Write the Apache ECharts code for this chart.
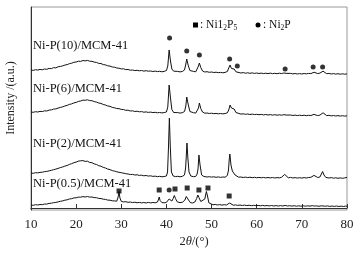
<!DOCTYPE html>
<html><head><meta charset="utf-8">
<script src="https://cdn.jsdelivr.net/npm/echarts@6/dist/echarts.min.js"></script>
<style>html,body{margin:0;padding:0;background:#fff}#c{width:359px;height:253px}</style>
</head><body><div id="c"></div>
<script>
// X-axis ticks (2θ, degrees)
var xTicks = [10, 20, 30, 40, 50, 60, 70, 80];
var sampleNames = ['Ni-P(10)/MCM-41', 'Ni-P(6)/MCM-41', 'Ni-P(2)/MCM-41', 'Ni-P(0.5)/MCM-41'];

// XRD patterns, [2θ, intensity (a.u., stacked offsets)]
var np10 = [[10,138],[10.5,137.6],[11,138.3],[11.5,137.9],[12,138.6],[12.5,138.2],[13,139],[13.5,138.7],[14,139.6],[14.5,139.3],[15,140.4],[15.5,140.1],[16,141.2],[16.5,141.6],[17,142.1],[17.5,142.9],[18,143.4],[18.5,144.3],[19,144.8],[19.5,145.7],[20,146],[20.5,146.8],[21,146.6],[21.5,147.5],[22,147.1],[22.5,147.6],[23,146.8],[23.5,146.7],[24,145.9],[24.5,145.6],[25,144.6],[25.5,144.5],[26,143.4],[26.5,143.1],[27,142.2],[27.5,141.9],[28,141],[28.5,140.8],[29,140],[29.5,139.8],[30,139.1],[30.5,139.2],[31,138.4],[31.5,138.5],[32,137.8],[32.5,138],[33,137.4],[33.5,137.7],[34,137.2],[34.5,137.5],[35,136.9],[35.5,137.3],[36,136.8],[36.5,137],[37,136.5],[37.5,136.9],[38,136.4],[38.5,136.7],[39,136.2],[39.5,136.6],[40,137.5],[40.3,142],[40.6,158],[40.9,147],[41.2,139],[41.6,136.8],[42,136.2],[42.5,136.6],[43,136.1],[43.5,136.5],[44,138],[44.3,144],[44.5,149],[44.8,143],[45.2,137.5],[45.6,136.3],[46,136.6],[46.5,136.2],[46.8,138],[47.1,142],[47.3,145],[47.6,140.5],[48,137],[48.5,136],[49,136.3],[49.5,135.7],[50,136],[50.5,135.5],[51,135.8],[51.5,135.3],[52,135.6],[52.5,135.2],[53,135.6],[53.5,136.5],[53.8,140],[54.1,143],[54.4,139.5],[54.7,138],[55,139],[55.4,136.2],[55.8,135.4],[56.5,135],[57,135.4],[57.5,134.8],[58,135.2],[58.5,134.7],[59,135.1],[59.5,134.6],[60,135],[60.5,134.5],[61,134.9],[61.5,134.4],[62,134.8],[62.5,134.4],[63,134.9],[63.5,134.3],[64,134.7],[64.5,134.3],[65,134.8],[65.5,134.4],[66,135],[66.3,135.8],[66.7,134.6],[67,134.2],[67.5,134.6],[68,134.1],[68.5,134.5],[69,134],[69.5,134.4],[70,134],[70.5,134.5],[71,134.1],[71.5,134.6],[72,134.4],[72.4,135.3],[72.7,135.8],[73,134.6],[73.5,134.4],[74,134.9],[74.4,135.5],[74.7,136.8],[75,135.4],[75.5,134.3],[76,134.6],[76.5,134],[77,134.4],[77.5,133.9],[78,134.3],[78.5,133.8],[79,134.2],[79.5,133.8],[80,134.1]];

var np6 = [[10,96],[10.5,95.7],[11,96.3],[11.5,96],[12,96.6],[12.5,96.4],[13,97.2],[13.5,97],[14,97.9],[14.5,98.1],[15,98.9],[15.5,99.1],[16,99.9],[16.5,100.6],[17,101.1],[17.5,102],[18,102.6],[18.5,103.6],[19,104.1],[19.5,105.1],[20,105.6],[20.5,106.6],[21,107],[21.5,107.9],[22,107.7],[22.5,108.2],[23,107.4],[23.5,107.3],[24,106.4],[24.5,105.9],[25,105],[25.5,104.6],[26,103.5],[26.5,103],[27,102],[27.5,101.7],[28,100.6],[28.5,100.2],[29,99.5],[29.5,99.3],[30,98.6],[30.5,98.4],[31,97.7],[31.5,97.8],[32,97],[32.5,97.2],[33,96.5],[33.5,96.8],[34,96.2],[34.5,96.4],[35,95.8],[35.5,96.1],[36,95.6],[36.5,95.9],[37,95.4],[37.5,95.7],[38,95.2],[38.5,95.5],[39,95.1],[39.5,95.4],[40,96],[40.3,101],[40.6,123],[40.9,110],[41.2,98.5],[41.6,95.5],[42,95],[42.5,95.4],[43,94.9],[43.5,95.3],[44,96.5],[44.3,102],[44.5,111],[44.8,104],[45.2,96.5],[45.6,95],[46,95.3],[46.5,94.9],[46.8,96.5],[47.1,100],[47.3,105],[47.6,99.5],[48,96],[48.5,94.8],[49,95],[49.5,94.5],[50,94.8],[50.5,94.3],[51,94.6],[51.5,94.2],[52,94.5],[52.5,94.1],[53,94.5],[53.5,95.2],[53.8,98],[54.1,103],[54.4,100],[54.7,98],[55,99],[55.4,95.5],[55.8,94.3],[56.5,93.9],[57,94.2],[57.5,93.7],[58,94],[58.5,93.5],[59,93.9],[59.5,93.4],[60,93.7],[60.5,93.3],[61,93.6],[61.5,93.1],[62,93.5],[62.5,93],[63,93.4],[63.5,92.9],[64,93.3],[64.5,92.8],[65,93.2],[65.5,92.8],[66,93.3],[66.3,93.9],[66.7,92.9],[67,92.6],[67.5,93],[68,92.5],[68.5,92.9],[69,92.4],[69.5,92.8],[70,92.4],[70.5,92.8],[71,92.3],[71.5,92.7],[72,92.5],[72.4,93.2],[72.7,93.6],[73,92.7],[73.5,92.4],[74,92.9],[74.4,93.8],[74.7,95.2],[75,93.6],[75.5,92.4],[76,92.7],[76.5,92.1],[77,92.5],[77.5,92],[78,92.4],[78.5,91.9],[79,92.3],[79.5,91.9],[80,92.2]];

var np2 = [[10,35],[10.5,34.7],[11,35.3],[11.5,35.1],[12,35.6],[12.5,35.8],[13,36.3],[13.5,36.6],[14,37.1],[14.5,37.7],[15,38.3],[15.5,38.9],[16,39.6],[16.5,40.4],[17,41],[17.5,41.9],[18,42.5],[18.5,43.6],[19,44.3],[19.5,45.3],[20,45.9],[20.5,46.9],[21,47.2],[21.5,47.4],[22,46.6],[22.5,46.8],[23,45.6],[23.5,45.3],[24,44.1],[24.5,43.5],[25,42.3],[25.5,41.8],[26,40.6],[26.5,40],[27,38.9],[27.5,38.4],[28,37.4],[28.5,36.9],[29,36.2],[29.5,35.7],[29.8,37.4],[30.1,35.2],[30.5,34.6],[31,34.3],[31.5,34],[32,33.5],[32.5,33.6],[33,33],[33.5,33.2],[34,32.6],[34.5,32.8],[35,32.2],[35.5,32.5],[36,31.9],[36.5,32.2],[37,31.6],[37.5,31.9],[38,31.3],[38.5,31.7],[39,31.2],[39.5,31.5],[40,32],[40.25,36],[40.45,60],[40.65,90],[40.85,62],[41.1,36],[41.5,32],[42,31.4],[42.5,31.7],[43,31.2],[43.5,31.6],[44,33],[44.25,40],[44.4,52],[44.55,65],[44.75,50],[45,36],[45.4,32],[46,31.3],[46.5,31.6],[46.8,34],[47,39],[47.2,53],[47.45,43],[47.8,33],[48.3,31.5],[49,31],[49.5,31.3],[50,30.9],[50.5,31.2],[51,30.7],[51.5,31.1],[52,30.6],[52.5,31],[53,30.8],[53.5,32.5],[53.75,38],[53.9,48],[54.05,54],[54.3,43],[54.6,37],[54.9,38.5],[55.2,33],[55.6,31.4],[56,30.8],[56.5,31],[57,30.5],[57.5,30.9],[58,30.4],[58.5,30.8],[59,30.3],[59.5,30.7],[60,30.2],[60.5,30.6],[61,30.2],[61.5,30.6],[62,30.1],[62.5,30.5],[63,30.1],[63.5,30.5],[64,30],[64.5,30.4],[65,30.1],[65.5,30.7],[65.9,32],[66.2,33.6],[66.5,31.6],[67,30.2],[67.5,30.6],[68,30],[68.5,30.4],[69,29.9],[69.5,30.3],[70,29.9],[70.5,30.4],[71,30],[71.5,30.5],[72,30.7],[72.4,31.8],[72.7,32.6],[73,31.2],[73.5,30.5],[74,31],[74.3,32.8],[74.6,36.5],[74.9,33],[75.3,30.6],[76,30],[76.5,30.4],[77,29.8],[77.5,30.2],[78,29.7],[78.5,30.1],[79,29.7],[79.5,30.1],[80,30.6]];

var np05 = [[10,3],[10.5,2.7],[11,3.3],[11.5,3],[12,3.5],[12.5,3.3],[13,4],[13.5,3.9],[14,4.6],[14.5,4.8],[15,5.3],[15.5,5.6],[16,6.1],[16.5,6.7],[17,7.1],[17.5,7.8],[18,8.2],[18.5,9],[19,9.3],[19.5,10.1],[20,10.2],[20.5,10.9],[21,10.8],[21.5,11.4],[22,11],[22.5,11.5],[23,10.9],[23.5,11],[24,10.4],[24.5,10.3],[25,9.6],[25.5,9.5],[26,8.8],[26.5,8.6],[27,7.9],[27.5,7.8],[28,7.2],[28.5,7.1],[29,6.8],[29.3,11],[29.5,16.5],[29.7,10],[30,6.6],[30.5,6.1],[31,6.3],[31.5,5.7],[32,6],[32.5,5.4],[33,5.8],[33.5,5.2],[34,5.6],[34.5,5.1],[35,5.5],[35.5,5],[36,5.6],[36.5,5.1],[37,5.5],[37.5,5.2],[38,5.9],[38.2,8],[38.4,11],[38.6,7.5],[39,5.4],[39.5,5.2],[40,5.6],[40.4,7.5],[40.6,9],[40.8,7.2],[41.2,7],[41.5,9.5],[41.75,12.5],[42,9.5],[42.4,6.2],[43,5.3],[43.6,5.9],[44.1,8],[44.4,11.5],[44.6,12],[44.9,8],[45.3,5.4],[45.8,5],[46.3,6],[46.7,9.5],[46.95,13],[47.2,10.5],[47.6,6.5],[48,6],[48.5,9],[48.85,16.5],[49.1,12],[49.4,5.2],[49.8,3.5],[50.3,3.2],[50.8,3.6],[51.3,3],[51.8,3.4],[52.3,2.9],[52.8,3.3],[53.3,3],[53.7,3.6],[54,5],[54.3,3.3],[54.8,2.8],[55.3,3.1],[55.8,2.6],[56.3,3],[56.8,2.5],[57.3,2.9],[57.8,2.4],[58.3,2.8],[58.8,2.3],[59.3,2.7],[59.8,2.3],[60.3,2.6],[60.8,2.2],[61.3,2.6],[61.8,2.1],[62.3,2.5],[62.8,2.1],[63.3,2.5],[63.8,2],[64.3,2.4],[64.8,2],[65.3,2.4],[65.8,2],[66.3,2.6],[66.8,2],[67.3,2.3],[67.8,1.9],[68.3,2.3],[68.8,1.8],[69.3,2.2],[69.8,1.8],[70.3,2.2],[70.8,1.8],[71.3,2.2],[71.8,1.9],[72.3,2.3],[72.8,2],[73.3,2.1],[73.8,1.7],[74.3,2.2],[74.7,2.6],[75.2,1.8],[75.7,2.1],[76.2,1.6],[76.7,2],[77.2,1.6],[77.7,2],[78.2,1.5],[78.7,1.9],[79.2,1.5],[79.7,1.9],[80,1.7]];

// phase markers [2θ, height]
var ni2pMarks = [[40.7,170],[44.5,157],[47.3,153],[54.0,149],[55.7,142],[66.3,139],[72.5,141],[74.6,141],[40.6,18]];
var ni12p5Marks = [[29.5,17],[38.4,18],[41.9,19],[44.6,20],[47.2,18],[49.2,20],[53.9,12]];

var FONT = '"Liberation Serif","DejaVu Serif",serif';
var series = [np10, np6, np2, np05].map(function (d) {
  return { type: 'line', data: d, showSymbol: false, symbol: 'none', silent: true,
    lineStyle: { color: '#111', width: 1 }, z: 2 };
});
series.push({ type: 'scatter', data: ni2pMarks, symbol: 'circle', symbolSize: 5,
  itemStyle: { color: '#000' }, silent: true, z: 3 });
series.push({ type: 'scatter', data: ni12p5Marks, symbol: 'rect', symbolSize: 5,
  itemStyle: { color: '#000' }, silent: true, z: 3 });

var labelY = [46, 89, 144, 184];
var graphics = sampleNames.map(function (n, i) {
  return { type: 'text', left: 33, top: labelY[i] - 7, silent: true,
    style: { text: n, font: '12.5px ' + FONT, fill: '#111' } };
});
graphics.push({ type: 'text', x: 5, y: 98, rotation: Math.PI / 2, silent: true,
  style: { text: 'Intensity /(a.u.)', font: '12px ' + FONT, fill: '#222', align: 'center', verticalAlign: 'top' } });
graphics.push({ type: 'text', x: 194, y: 242, silent: true,
  style: { text: '2{i|θ}/(°)', font: '12.5px ' + FONT, fill: '#222', align: 'center', verticalAlign: 'middle',
    rich: { i: { font: 'italic 12.5px ' + FONT, fill: '#222' } } } });
graphics.push({ type: 'rect', shape: { x: 193, y: 22.5, width: 5, height: 5 }, style: { fill: '#000' }, silent: true });
graphics.push({ type: 'text', x: 200, y: 25, silent: true,
  style: { text: ': Ni1{s|2}P{s|5}', font: '11.5px ' + FONT, fill: '#111', verticalAlign: 'middle',
    rich: { s: { font: '7.5px ' + FONT, fill: '#111', verticalAlign: 'bottom', padding: [6, 0, 0, 0] } } } });
graphics.push({ type: 'circle', shape: { cx: 258, cy: 25, r: 2.5 }, style: { fill: '#000' }, silent: true });
graphics.push({ type: 'text', x: 263, y: 25, silent: true,
  style: { text: ': Ni{s|2}P', font: '11.5px ' + FONT, fill: '#111', verticalAlign: 'middle',
    rich: { s: { font: '7.5px ' + FONT, fill: '#111', verticalAlign: 'bottom', padding: [6, 0, 0, 0] } } } });

var chart = echarts.init(document.getElementById('c'), null, { renderer: 'canvas' });
chart.setOption({
  animation: false,
  grid: { left: 31, right: 12, top: 7, bottom: 43, show: true, borderColor: '#999', borderWidth: 1 },
  xAxis: { type: 'value', min: xTicks[0], max: xTicks[xTicks.length - 1], interval: 10,
    axisLine: { lineStyle: { color: '#333', width: 1 } },
    axisTick: { inside: true, length: 4, lineStyle: { color: '#333' } },
    splitLine: { show: false },
    axisLabel: { margin: 8, color: '#222', fontSize: 13, fontFamily: FONT } },
  yAxis: { type: 'value', min: -2, max: 201,
    axisLine: { show: true, lineStyle: { color: '#333', width: 1 } },
    axisTick: { show: false }, axisLabel: { show: false }, splitLine: { show: false } },
  series: series,
  graphic: graphics
});
</script></body></html>
